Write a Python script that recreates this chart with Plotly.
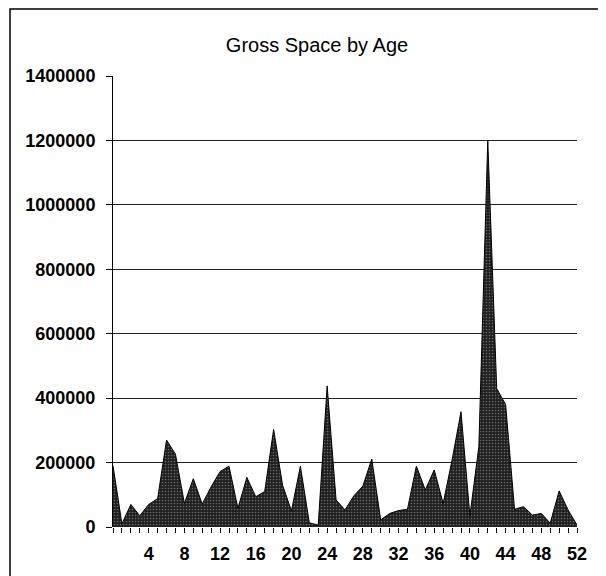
import plotly.graph_objects as go

ages = list(range(0, 53))
gross_space = [
    190000, 10000, 70000, 35000, 70000, 88000, 270000, 226000, 73000, 150000,
    71000, 125000, 172000, 189000, 58000, 154000, 94000, 110000, 303000, 130000,
    50000, 189000, 13000, 6000, 438000, 84000, 53000, 97000, 127000, 211000,
    22000, 42000, 51000, 55000, 189000, 115000, 177000, 73000, 208000, 358000,
    35000, 250000, 1200000, 430000, 380000, 55000, 63000, 37000, 42000, 12000,
    112000, 53000, 6000,
]
x_tick_labels = [str(a) if (a % 4 == 0 and a > 0) else "" for a in ages]
y_ticks = [0, 200000, 400000, 600000, 800000, 1000000, 1200000, 1400000]
title_text = "Gross Space by Age"

# page has an 8px body margin; work in page coordinates and shift
OFF = 8
W, H = 606 - OFF, 576 - OFF
plot_left, plot_right, plot_top, plot_bottom = 113, 577, 76, 527  # page px
L = plot_left - OFF
R = W - (plot_right - OFF)
T = plot_top - OFF
B = H - (plot_bottom - OFF)
pw = W - L - R
ph = H - T - B

def px_to_paper_x(p):
    return (p - plot_left) / pw

def px_to_paper_y(p):
    return (plot_bottom - p) / ph

fig = go.Figure()
fig.add_trace(go.Scatter(
    x=ages, y=gross_space, mode="lines", fill="tozeroy",
    line=dict(color="black", width=1),
    fillcolor="#333333",
    fillpattern=dict(shape=".", bgcolor="#1e1e1e", fgcolor="#b0b0b0", size=3, solidity=0.25),
    hoverinfo="x+y", showlegend=False,
))

fig.add_shape(type="rect", xref="paper", yref="paper",
              x0=px_to_paper_x(10), x1=px_to_paper_x(603),
              y0=px_to_paper_y(600), y1=px_to_paper_y(9),
              line=dict(color="black", width=1.5), fillcolor="rgba(0,0,0,0)", layer="below")

fig.update_layout(
    width=W, height=H,
    margin=dict(l=L, r=R, t=T, b=B),
    paper_bgcolor="white", plot_bgcolor="white",
    title=dict(text=title_text, x=(317 - OFF) / W, xref="container", xanchor="center",
               y=1 - (45 - OFF) / H, yref="container", yanchor="middle",
               font=dict(family="Liberation Sans, Arial", size=20, color="black")),
    xaxis=dict(range=[0, 52], tickmode="array", tickvals=ages, ticktext=x_tick_labels,
               showgrid=False, zeroline=False, showline=False,
               ticks="outside", ticklen=5, tickcolor="black", tickwidth=1,
               tickangle=0, ticklabelstandoff=5,
               tickfont=dict(family="Liberation Sans, Arial", size=18, color="black", weight="bold")),
    yaxis=dict(range=[0, 1400000], tickmode="array", tickvals=y_ticks,
               ticktext=[str(v) for v in y_ticks],
               showgrid=True, gridcolor="#222", gridwidth=1,
               zeroline=False, showline=True, linecolor="black", linewidth=1,
               ticks="outside", ticklen=6, tickcolor="black", ticklabelstandoff=7,
               tickfont=dict(family="Liberation Sans, Arial", size=18, color="black", weight="bold")),
)

fig.write_html("out.html")
